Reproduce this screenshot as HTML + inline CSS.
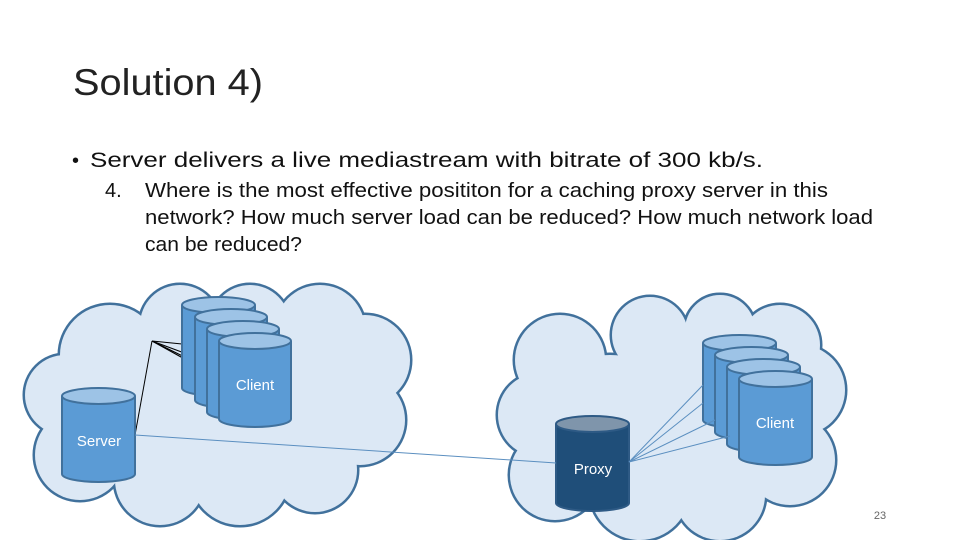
<!DOCTYPE html>
<html><head><meta charset="utf-8"><style>html,body{margin:0;padding:0;background:#fff}svg{display:block}</style></head>
<body>
<svg width="960" height="540" viewBox="0 0 960 540" xmlns="http://www.w3.org/2000/svg" font-family="Liberation Sans, sans-serif">
<defs>
<g id="c1">
<circle cx="110" cy="355" r="50"/><circle cx="65" cy="395" r="40"/><circle cx="80" cy="455" r="45"/>
<circle cx="160" cy="480" r="45"/><circle cx="240" cy="475" r="50"/><circle cx="315" cy="470" r="42"/>
<circle cx="360" cy="420" r="45"/><circle cx="365" cy="360" r="45"/><circle cx="320" cy="330" r="45"/>
<circle cx="250" cy="325" r="40"/><circle cx="180" cy="325" r="40"/><circle cx="220" cy="400" r="75"/><circle cx="150" cy="410" r="70"/><circle cx="290" cy="410" r="50"/>
</g>
<g id="c2">
<circle cx="560" cy="360" r="45"/><circle cx="540" cy="415" r="42"/><circle cx="555" cy="475" r="45"/>
<circle cx="640" cy="490" r="50"/><circle cx="720" cy="495" r="45"/><circle cx="790" cy="460" r="45"/>
<circle cx="800" cy="390" r="45"/><circle cx="780" cy="345" r="40"/><circle cx="720" cy="330" r="35"/>
<circle cx="650" cy="335" r="38"/><circle cx="680" cy="415" r="80"/><circle cx="610" cy="420" r="65"/>
</g>
</defs>
<text x="73" y="95" font-size="37" fill="#222" textLength="190" lengthAdjust="spacingAndGlyphs">Solution 4)</text>
<g font-size="20" fill="#111">
<text x="72" y="167">•</text>
<text x="90" y="167" font-size="21" textLength="673" lengthAdjust="spacingAndGlyphs">Server delivers a live mediastream with bitrate of 300 kb/s.</text>
<text x="105" y="197">4.</text>
<text x="145" y="197" textLength="683" lengthAdjust="spacingAndGlyphs">Where is the most effective posititon for a caching proxy server in this</text>
<text x="145" y="224" textLength="728" lengthAdjust="spacingAndGlyphs">network? How much server load can be reduced? How much network load</text>
<text x="145" y="251" textLength="157" lengthAdjust="spacingAndGlyphs">can be reduced?</text>
</g>
<use href="#c1" fill="none" stroke="#41719c" stroke-width="5"/>
<use href="#c1" fill="#dce8f5"/>
<use href="#c2" fill="none" stroke="#41719c" stroke-width="5"/>
<use href="#c2" fill="#dce8f5"/>
<g stroke="#000" stroke-width="1">
<line x1="152" y1="341" x2="135" y2="435"/><line x1="152" y1="341" x2="182" y2="344"/>
<line x1="152" y1="341" x2="195" y2="357"/><line x1="152" y1="341" x2="207" y2="368"/><line x1="152" y1="341" x2="219" y2="378"/>
</g>
<g stroke="#41719c" stroke-width="2">
<g fill="#5b9bd5">
<path d="M182 305 V388 A36.5 8 0 0 0 255 388 V305"/><ellipse cx="218.5" cy="305" rx="36.5" ry="8" fill="#9dc3e6"/>
<path d="M195 317 V400 A36 8 0 0 0 267 400 V317"/><ellipse cx="231" cy="317" rx="36" ry="8" fill="#9dc3e6"/>
<path d="M207 329 V412 A36 8 0 0 0 279 412 V329"/><ellipse cx="243" cy="329" rx="36" ry="8" fill="#9dc3e6"/>
<path d="M219 341 V419 A36 8 0 0 0 291 419 V341"/><ellipse cx="255" cy="341" rx="36" ry="8" fill="#9dc3e6"/>
<path d="M62 396 V474 A36.5 8 0 0 0 135 474 V396"/><ellipse cx="98.5" cy="396" rx="36.5" ry="8" fill="#9dc3e6"/>
<path d="M703 343 V420 A36.5 8 0 0 0 776 420 V343"/><ellipse cx="739.5" cy="343" rx="36.5" ry="8" fill="#9dc3e6"/>
<path d="M715 355 V432 A36.5 8 0 0 0 788 432 V355"/><ellipse cx="751.5" cy="355" rx="36.5" ry="8" fill="#9dc3e6"/>
<path d="M727 367 V444 A36.5 8 0 0 0 800 444 V367"/><ellipse cx="763.5" cy="367" rx="36.5" ry="8" fill="#9dc3e6"/>
<path d="M739 379 V457 A36.5 8 0 0 0 812 457 V379"/><ellipse cx="775.5" cy="379" rx="36.5" ry="8" fill="#9dc3e6"/>
</g>
<path d="M556 424 V503 A36.5 8 0 0 0 629 503 V424" fill="#1f4e79" stroke="#2e5a85"/><ellipse cx="592.5" cy="424" rx="36.5" ry="8" fill="#7f95ab" stroke="#2e5a85"/>
</g>
<g stroke="#5b8fc0" stroke-width="1">
<line x1="135" y1="435" x2="556" y2="463"/>
<line x1="629" y1="462" x2="703" y2="385"/><line x1="629" y1="462" x2="703" y2="403"/>
<line x1="629" y1="462" x2="715" y2="420"/><line x1="629" y1="462" x2="730" y2="436"/>
</g>
<g fill="#fff" font-size="15" text-anchor="middle">
<text x="255" y="390">Client</text>
<text x="99" y="446">Server</text>
<text x="775" y="428">Client</text>
<text x="593" y="474">Proxy</text>
</g>
<text x="880" y="519" font-size="11" fill="#666" text-anchor="middle">23</text>
</svg>
</body></html>
